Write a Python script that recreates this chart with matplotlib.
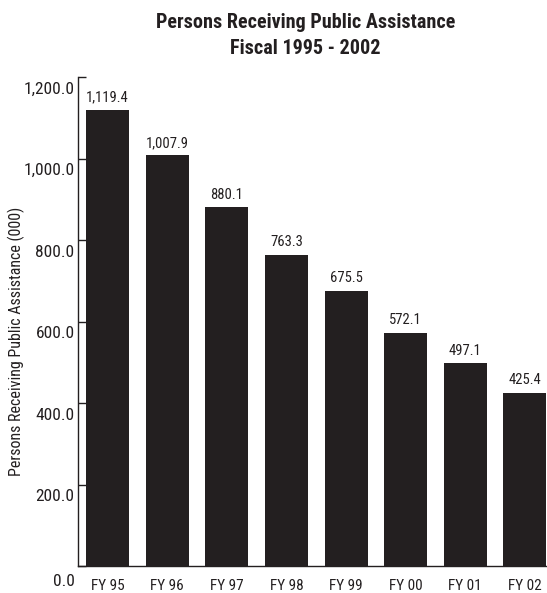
import numpy as np
import matplotlib.pyplot as plt
from matplotlib.transforms import ScaledTranslation

# persons receiving public assistance, thousands
years = ["FY 95", "FY 96", "FY 97", "FY 98", "FY 99", "FY 00", "FY 01", "FY 02"]
persons = [1119.4, 1007.9, 880.1, 763.3, 675.5, 572.1, 497.1, 425.4]
yticks = [0, 200, 400, 600, 800, 1000, 1200]

plt.rcParams['font.family'] = ['Roboto Condensed', 'Archivo Narrow', 'DejaVu Sans']
ink = '#231f20'

fig = plt.figure(figsize=(5.47, 5.93), dpi=100)
ax = fig.add_axes([0.1426, 0.0455, 0.8574, 0.8245])

x = np.arange(len(years))
bars = ax.bar(x, persons, width=0.72, color=ink)
ax.bar_label(bars, labels=[f"{v:,.1f}" for v in persons], padding=4,
             fontsize=10.5, color=ink)

ax.set_xlim(-0.495, 7.37)
ax.set_ylim(0, 1200)
ax.set_xticks(x)
ax.set_xticklabels(years, fontsize=11, color=ink)
ax.set_yticks(yticks)
ax.set_yticklabels([f"{v:,.1f}" for v in yticks], fontsize=12.5, color=ink)
ax.tick_params(axis='x', length=0, pad=9)
ax.tick_params(axis='y', direction='in', length=6, width=1, color=ink, pad=2.5)

# y labels sit a little below their ticks, the zero one a bit more
for lab, v in zip(ax.get_yticklabels(), yticks):
    dy = 14 if v == 0 else 10.5
    lab.set_transform(lab.get_transform() +
                      ScaledTranslation(0, -dy / 100, fig.dpi_scale_trans))

for side in ['top', 'right']:
    ax.spines[side].set_visible(False)
for side in ['left', 'bottom']:
    ax.spines[side].set_color(ink)
    ax.spines[side].set_linewidth(1)

ax.set_ylabel("Persons Receiving Public Assistance (000)", fontsize=11.5, color=ink)
ax.yaxis.set_label_coords(-0.113, 0.46)

fig.text(0.558, 0.978, "Persons Receiving Public Assistance\nFiscal 1995 - 2002",
         ha='center', va='top', fontsize=14.5, fontweight='bold', color=ink,
         linespacing=1.45)

fig.savefig("out.png", dpi=100)
